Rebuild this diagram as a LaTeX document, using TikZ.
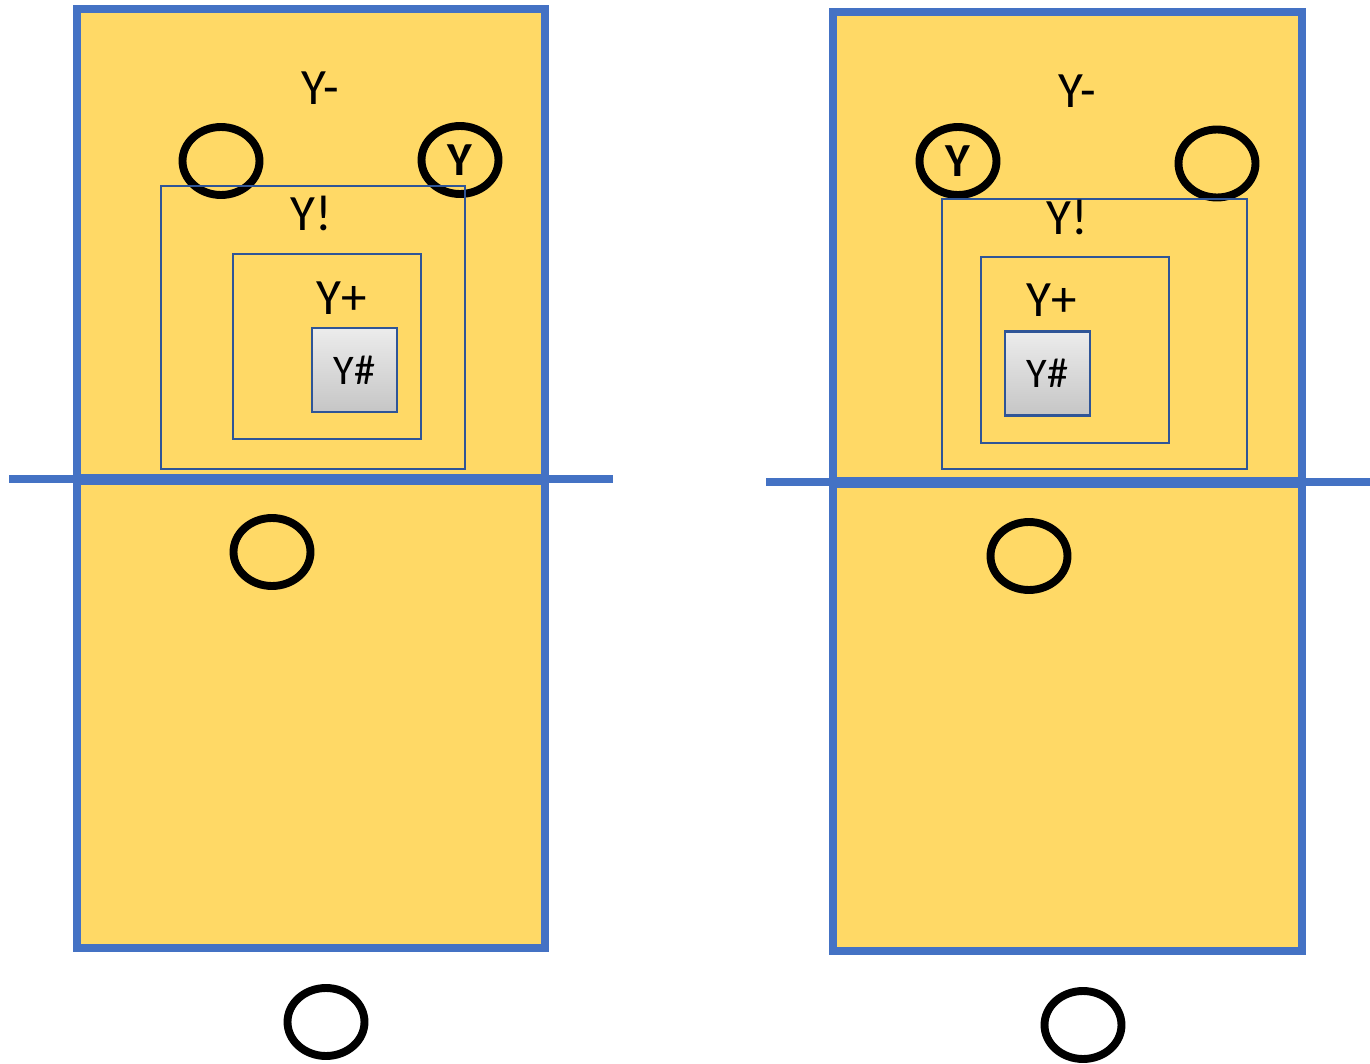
\documentclass[tikz,border=0pt]{standalone}
\usepackage{xcolor}
\usepackage{fontspec}
\setmainfont{Carlito}
\usetikzlibrary{shapes.geometric}
\definecolor{courtGold}{HTML}{FFD966}
\definecolor{courtBlue}{HTML}{4472C4}
\definecolor{zoneBlue}{HTML}{2F5597}

\begin{document}
\begin{tikzpicture}[x=0.02cm, y=-0.02cm, line join=miter,
  court/.style={draw=courtBlue, line width=4pt, fill=courtGold},
  net/.style={draw=courtBlue, line width=4.5pt},
  zone/.style={draw=zoneBlue, line width=1.3pt},
  ring/.style={ellipse, draw=black, line width=4.5pt, minimum width=1.54cm, minimum height=1.36cm, inner sep=0pt, font=\bfseries\fontsize{27}{27}\selectfont},
  tag/.style={font=\fontsize{29}{29}\selectfont, inner sep=0pt},
  setter/.style={draw=zoneBlue, line width=1.2pt, top color=gray!15, bottom color=gray!45, minimum width=1.7cm, minimum height=1.68cm, inner sep=0pt, font=\fontsize{24}{24}\selectfont}]
  \useasboundingbox (0,0) rectangle (1370,1064);

  % left court
  \draw[court] (77,9) rectangle (545,478);
  \draw[court] (77,481) rectangle (545,948);
  \draw[net] (9,479) -- (613,479);
  \foreach \nm/\x/\y in {lOpp/221/161, lBack/272/552, lServe/326/1022}{%
    \node[ring] (\nm) at (\x,\y) {};
  }
  \node[ring] (lSet) at (460,160) {Y};
  \draw[zone] (161,186) rectangle (465,469);
  \draw[zone] (233,254) rectangle (421,439);
  \node[tag] (lMinus) at (320,88) {Y-};
  \node[tag] (lBang) at (311,213) {Y!};
  \node[tag] (lPlus) at (342,298) {Y+};
  \node[setter] (lHash) at (354.5,370) {Y\#};

  % right court
  \draw[court] (833,12) rectangle (1302,481);
  \draw[court] (833,484) rectangle (1302,951);
  \draw[net] (766,482) -- (1370,482);
  \foreach \nm/\x/\y in {rOpp/1217/163.5, rBack/1029/556, rServe/1083/1025}{%
    \node[ring] (\nm) at (\x,\y) {};
  }
  \node[ring] (rSet) at (958,161) {Y};
  \draw[zone] (942,199) rectangle (1247,469);
  \draw[zone] (981,257) rectangle (1169,443);
  \node[tag] (rMinus) at (1077,91) {Y-};
  \node[tag] (rBang) at (1067,217) {Y!};
  \node[tag] (rPlus) at (1052,300) {Y+};
  \node[setter] (rHash) at (1047.5,373.5) {Y\#};
\end{tikzpicture}
\end{document}
